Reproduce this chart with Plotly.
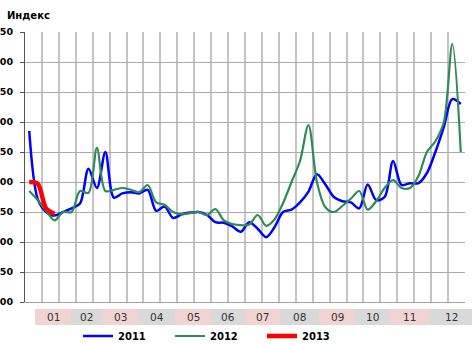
import plotly.graph_objects as go

weeks = list(range(1, 53))

s2011 = [385, 272, 250, 244, 250, 256, 264, 322, 290, 350,
         274, 281, 283, 281, 287, 252, 259, 240, 246, 249,
         250, 245, 233, 232, 226, 217, 233, 222, 208, 225,
         250, 254, 266, 284, 313, 296, 275, 268, 266, 256,
         296, 270, 275, 335, 295, 298, 298, 315, 350, 392,
         438, 430]

s2012 = [285, 270, 252, 236, 250, 250, 285, 282, 357, 285,
         287, 290, 287, 283, 295, 266, 262, 250, 246, 248,
         250, 245, 255, 236, 230, 228, 229, 245, 227, 238,
         265, 300, 335, 395, 300, 258, 250, 260, 272, 285,
         254, 268, 290, 303, 290, 290, 310, 350, 368, 400,
         530, 350]

s2013 = [300, 297, 256, 247]

month_labels = ["01", "02", "03", "04", "05", "06", "07", "08", "09", "10", "11", "12"]
y_ticks = [100, 150, 200, 250, 300, 350, 400, 450, 500, 550]
# the reference shows only the last two digits (labels cut at the left edge)
y_ticktext = ["00", "50", "00", "50", "00", "50", "00", "50", "00", "50"]

# layout of the month strip below the plot (figure pixels)
band_edges_px = [35, 71, 102, 138, 175, 211, 245, 280, 319, 355, 389, 430, 472]

W, H = 476, 344
L, R, T, B = 25, 11, 32, 42
pw, ph = W - L - R, H - T - B

def px2paper_x(px):
    return (px - L) / pw

def px2paper_y(py):
    return (H - B - py) / ph

fig = go.Figure()
fig.add_trace(go.Scatter(x=weeks, y=s2011, name="2011", mode="lines",
                         line=dict(color="#0000FF", width=2.5, shape="spline", smoothing=0.9)))
fig.add_trace(go.Scatter(x=weeks, y=s2012, name="2012", mode="lines",
                         line=dict(color="#2E8B57", width=2.2, shape="spline", smoothing=0.9)))
fig.add_trace(go.Scatter(x=weeks[:len(s2013)], y=s2013, name="2013", mode="lines",
                         line=dict(color="#FF0000", width=4.5, shape="spline", smoothing=0.9)))

shapes = []
annotations = []
for i, lab in enumerate(month_labels):
    x0 = px2paper_x(band_edges_px[i])
    x1 = px2paper_x(band_edges_px[i + 1])
    color = "#F2D3D3" if i % 2 == 0 else "#D9D9D9"
    shapes.append(dict(type="rect", xref="paper", yref="paper",
                       x0=x0, x1=x1, y0=px2paper_y(325), y1=px2paper_y(309),
                       fillcolor=color, line=dict(width=0), layer="below"))
    annotations.append(dict(xref="paper", yref="paper", x=(x0 + x1) / 2, y=px2paper_y(317),
                            text=lab, showarrow=False, xanchor="center", yanchor="middle",
                            font=dict(family="DejaVu Sans", size=10.5, color="#333333")))

annotations.append(dict(xref="paper", yref="paper", x=px2paper_x(5), y=px2paper_y(15),
                        text="<b>Индекс</b>", showarrow=False, xanchor="left", yanchor="middle",
                        font=dict(family="DejaVu Sans", size=10, color="#000000")))

fig.update_layout(
    width=W, height=H,
    margin=dict(l=L, r=R, t=T, b=B, autoexpand=False),
    paper_bgcolor="white", plot_bgcolor="white",
    shapes=shapes, annotations=annotations,
    showlegend=True,
    legend=dict(orientation="h", x=px2paper_x(78), y=px2paper_y(336),
                xanchor="left", yanchor="middle",
                entrywidth=47, entrywidthmode="pixels",
                font=dict(family="DejaVu Sans", size=10, color="#000000", weight="bold"),
                bgcolor="rgba(0,0,0,0)", tracegroupgap=0),
    xaxis=dict(range=[0.5, 52.5], tick0=0.5, dtick=2, showticklabels=False,
               showgrid=True, gridcolor="#C4C4C4", gridwidth=1.5, automargin=False,
               zeroline=False, showline=True, linecolor="#A0A0A0", linewidth=1,
               ticks=""),
    yaxis=dict(range=[100, 550], tickvals=y_ticks, ticktext=y_ticktext,
               showgrid=True, automargin=False,
               gridcolor="#ABABAB", gridwidth=1.2, zeroline=False,
               showline=True, linecolor="#555555", linewidth=1,
               ticks="outside", ticklen=4, tickcolor="#555555",
               ticklabelstandoff=5,
               tickfont=dict(family="DejaVu Sans", size=9.5, color="#000000", weight="bold")),
)

fig.write_html("out.html")
